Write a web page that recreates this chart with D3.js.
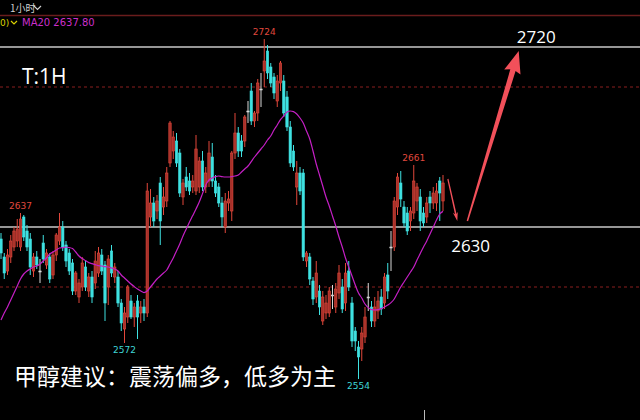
<!DOCTYPE html>
<html>
<head>
<meta charset="utf-8">
<script src="https://cdn.jsdelivr.net/npm/d3@7"></script>
<style>
  body { margin: 0; background: #000; }
  svg { display: block; }
</style>
</head>
<body>
<div id="chart"></div>
<script>
// hourly candles
const openP = [2624,2615,2608,2615,2620,2623,2620,2635,2628,2624,2608,2615,2608,2622,2611,2615,2606,2616,2623,2630,
  2621,2617,2612,2598,2595,2600,2610,2598,2605,2602,2607,2616,2611,2600,2618,2605,2605,2592,2579,2585,
  2593,2585,2593,2587,2590,2587,2635,2642,2638,2652,2640,2643,2662,2668,2673,2667,2645,2655,2653,2650,
  2648,2650,2663,2650,2653,2665,2653,2650,2642,2630,2642,2638,2667,2677,2673,2673,2688,2698,2683,2687,
  2699,2708,2718,2710,2705,2693,2702,2703,2695,2680,2668,2650,2657,2657,2613,2615,2603,2595,2598,2583,
  2587,2587,2596,2590,2597,2600,2592,2608,2592,2578,2570,2569,2575,2595,2590,2583,2588,2595,2592,2606,
  2620,2620,2640,2652,2640,2637,2633,2637,2643,2645,2637,2635,2645,2642,2642,2653,2643];
const highP = [2627,2617,2619,2626,2630,2634,2637,2636,2631,2627,2617,2618,2614,2626,2619,2617,2618,2627,2637,2633,
  2623,2619,2614,2608,2604,2615,2613,2607,2608,2618,2620,2619,2613,2616,2621,2612,2608,2594,2590,2601,
  2596,2592,2596,2593,2594,2652,2649,2645,2646,2655,2650,2660,2683,2678,2677,2669,2654,2660,2657,2656,
  2676,2665,2668,2660,2673,2672,2656,2652,2645,2647,2648,2668,2687,2680,2676,2686,2693,2702,2688,2704,
  2707,2724,2721,2712,2707,2706,2713,2706,2698,2683,2671,2663,2660,2659,2618,2617,2605,2613,2601,2598,
  2596,2600,2601,2602,2611,2604,2612,2613,2595,2580,2573,2580,2590,2602,2593,2595,2598,2599,2607,2612,
  2628,2645,2657,2658,2643,2640,2640,2661,2652,2649,2640,2645,2648,2650,2652,2655,2656];
const lowP = [2614,2604,2606,2612,2618,2620,2618,2623,2618,2606,2605,2609,2602,2612,2609,2602,2604,2613,2621,2618,
  2610,2606,2596,2596,2592,2598,2598,2595,2592,2599,2605,2606,2583,2591,2605,2602,2590,2578,2572,2582,
  2584,2580,2574,2582,2583,2585,2630,2630,2634,2621,2636,2640,2660,2664,2660,2645,2641,2648,2646,2647,
  2646,2647,2648,2647,2650,2650,2645,2640,2630,2627,2638,2633,2664,2665,2665,2670,2682,2681,2680,2683,
  2690,2700,2704,2700,2694,2690,2698,2685,2678,2660,2658,2641,2646,2613,2610,2601,2591,2592,2586,2581,
  2584,2585,2589,2587,2594,2587,2588,2598,2570,2568,2554,2563,2572,2588,2580,2580,2584,2586,2589,2594,
  2608,2618,2636,2640,2630,2626,2628,2634,2638,2628,2630,2632,2637,2639,2638,2633,2638];
const closeP = [2617,2607,2616,2623,2628,2629,2634,2625,2620,2610,2615,2611,2608,2614,2617,2604,2616,2626,2630,2620,
  2613,2608,2598,2607,2602,2612,2600,2605,2595,2613,2617,2608,2592,2614,2607,2610,2592,2582,2587,2600,
  2585,2590,2585,2590,2587,2648,2642,2633,2643,2633,2645,2657,2682,2675,2662,2647,2652,2650,2648,2653,
  2669,2663,2650,2657,2667,2653,2647,2642,2635,2643,2644,2667,2677,2668,2668,2685,2688,2683,2687,2702,
  2699,2713,2707,2702,2697,2703,2712,2687,2680,2662,2660,2657,2648,2615,2617,2604,2594,2607,2590,2595,
  2592,2598,2596,2599,2607,2589,2607,2600,2573,2573,2565,2577,2585,2595,2583,2590,2593,2589,2605,2598,
  2620,2643,2655,2644,2632,2628,2638,2653,2650,2633,2632,2642,2642,2647,2648,2647,2652];
// MA20 as drawn
const ma20 = [2583.5,2587,2590,2593.5,2597,2600.5,2604,2606.5,2608,2609,2610,2610.5,2611.5,2613,2614.5,2616.5,2617.5,2618.5,2619.5,2619.7,
  2620,2619.7,2619.2,2617.5,2615.5,2614.2,2613.2,2612.2,2611.7,2611.2,2610.7,2610.5,2610.2,2610,2609.5,2609,2608,2606,2604.5,2603,
  2601.5,2600.2,2599,2598,2597.2,2598,2600,2602,2604,2605.5,2607,2608.5,2611.5,2614.5,2618,2621.5,2625.5,2629,2632.5,2635.7,
  2639,2642.5,2646.7,2651,2653.5,2654.5,2655.2,2655.5,2655.2,2655,2655,2655.2,2655.5,2656,2657.5,2659,2660.5,2662.7,2665,2667,
  2669,2671,2673.5,2675.5,2678.5,2681,2683.7,2685.5,2687.5,2688,2687.7,2686.5,2684.5,2682,2678,2674,2668,2661.5,2656,2650.5,
  2645,2640.5,2635.5,2630.5,2625,2620,2614.5,2610,2605.5,2601,2597,2594.5,2591.5,2589.7,2588.7,2588.5,2588.7,2589.2,2590,2591,
  2592.2,2594,2597,2600,2602.5,2605,2607.5,2610,2613.5,2616.7,2620,2623,2626.5,2630,2633.5,2636.5,2637.8];

// marked extremes
const markIdx = [81, 6, 127, 38, 110];
const markVal = [2724, 2637, 2661, 2572, 2554];
const markIsHigh = [true, true, true, false, false];

// levels
const gridLevels = [2700, 2600];
const targetLevels = [2720, 2630];
const targetText = ['2720', '2630'];
const targetIdx = [164.7, 144.5];

// drawn path: pull back then up
const dipArrow = [[137.5, 2654], [140.4, 2633]];
const upArrow = [[143.5, 2633], [159.3, 2718]];

const width = 640, height = 420;
const up = '#e2473b', upFill = '#a8312a', down = '#3fe2e2', flat = '#d8d8d8';

const svg = d3.select('#chart').append('svg')
  .attr('width', width)
  .attr('height', height)
  .style('background', '#000');

const x = d3.scaleLinear().domain([0, 136]).range([1, 443]);
const y = d3.scaleLinear().domain([2700, 2600]).range([87, 287]);

// header
svg.append('line')
  .attr('x1', 0).attr('x2', width).attr('y1', 15.5).attr('y2', 15.5)
  .attr('stroke', '#6a1c1c').attr('stroke-width', 1.5);
svg.append('text')
  .attr('x', 10).attr('y', 12)
  .attr('fill', '#d0d0d0')
  .style('font', '10px "Noto Sans CJK SC", sans-serif')
  .text('1小时');
svg.append('path')
  .attr('d', 'M34,6 L37.5,9.5 L41,6')
  .attr('fill', 'none').attr('stroke', '#d0d0d0').attr('stroke-width', 1.2);
svg.append('text')
  .attr('x', 0).attr('y', 26)
  .attr('fill', '#d8d000')
  .style('font', '9px "DejaVu Sans", sans-serif')
  .text('0)');
svg.append('path')
  .attr('d', 'M11,21 L14,24 L17,21')
  .attr('fill', 'none').attr('stroke', '#d8d000').attr('stroke-width', 1.2);
svg.append('text')
  .attr('x', 22).attr('y', 26)
  .attr('fill', '#cc2fcc')
  .style('font', '10px "DejaVu Sans", sans-serif')
  .text('MA20 ' + ma20[ma20.length - 1].toFixed(2));

// grid
svg.selectAll('line.grid')
  .data(gridLevels)
  .enter().append('line')
  .attr('class', 'grid')
  .attr('x1', 0).attr('x2', width)
  .attr('y1', d => y(d)).attr('y2', d => y(d))
  .attr('stroke', '#8a1f1f')
  .attr('stroke-dasharray', '3,3');

svg.selectAll('line.level')
  .data(targetLevels)
  .enter().append('line')
  .attr('class', 'level')
  .attr('x1', 0).attr('x2', width)
  .attr('y1', d => y(d)).attr('y2', d => y(d))
  .attr('stroke', '#c8c8c8')
  .attr('stroke-width', 1.3);

// candles
const candles = d3.range(openP.length).map(i => ({
  i: i, o: openP[i], h: highP[i], l: lowP[i], c: closeP[i]
}));
const col = d => d.c > d.o ? up : (d.c < d.o ? down : flat);

const cg = svg.append('g')
  .selectAll('g.candle')
  .data(candles)
  .enter().append('g')
  .attr('class', 'candle');

cg.append('line')
  .attr('x1', d => x(d.i)).attr('x2', d => x(d.i))
  .attr('y1', d => y(d.h)).attr('y2', d => y(d.l))
  .attr('stroke', col)
  .attr('stroke-width', 1);

cg.append('rect')
  .attr('x', d => x(d.i) - 1.2)
  .attr('y', d => y(Math.max(d.o, d.c)))
  .attr('width', 2.4)
  .attr('height', d => Math.max(1, Math.abs(y(d.o) - y(d.c))))
  .attr('fill', d => d.c > d.o ? upFill : col(d))
  .attr('stroke', col)
  .attr('stroke-width', 0.6);

// moving average
svg.append('path')
  .datum(ma20)
  .attr('fill', 'none')
  .attr('stroke', '#c51fc5')
  .attr('stroke-width', 1.2)
  .attr('d', d3.line().x((d, i) => x(i)).y(d => y(d)).curve(d3.curveMonotoneX));

// high / low marks
svg.selectAll('text.mark')
  .data(markVal)
  .enter().append('text')
  .attr('class', 'mark')
  .attr('x', (d, i) => x(markIdx[i]))
  .attr('y', (d, i) => markIsHigh[i] ? y(d) - 4 : y(d) + 10)
  .attr('text-anchor', 'middle')
  .attr('fill', (d, i) => markIsHigh[i] ? '#e0493e' : '#3fd6d6')
  .style('font', '9px "DejaVu Sans", sans-serif')
  .text(d => d);

// target labels
svg.selectAll('text.target')
  .data(targetLevels)
  .enter().append('text')
  .attr('class', 'target')
  .attr('x', (d, i) => x(targetIdx[i]))
  .attr('y', (d, i) => i === 0 ? y(d) - 4 : y(d) + 25)
  .attr('text-anchor', 'middle')
  .attr('fill', '#fff')
  .style('font', '17px "Open Sans", sans-serif')
  .text((d, i) => targetText[i]);

svg.append('text')
  .attr('x', 22).attr('y', 84)
  .attr('fill', '#fff')
  .style('font', '21px "Open Sans", sans-serif')
  .text('T:1H');

// arrows
function arrow(pts, tailW, neckW, headLen, headW) {
  const x0 = x(pts[0][0]), y0 = y(pts[0][1]);
  const x1 = x(pts[1][0]), y1 = y(pts[1][1]);
  const len = Math.hypot(x1 - x0, y1 - y0);
  const ux = (x1 - x0) / len, uy = (y1 - y0) / len;
  const nx = -uy, ny = ux;
  const bx = x1 - ux * headLen, by = y1 - uy * headLen;
  const p = [
    [x0 + nx * tailW / 2, y0 + ny * tailW / 2],
    [bx + nx * neckW / 2, by + ny * neckW / 2],
    [bx + nx * headW / 2 - ux * 2, by + ny * headW / 2 - uy * 2],
    [x1, y1],
    [bx - nx * headW / 2 - ux * 2, by - ny * headW / 2 - uy * 2],
    [bx - nx * neckW / 2, by - ny * neckW / 2],
    [x0 - nx * tailW / 2, y0 - ny * tailW / 2]
  ];
  svg.append('path')
    .attr('d', 'M' + p.join('L') + 'Z')
    .attr('fill', '#f2505a');
}
arrow(dipArrow, 1.2, 1.6, 7, 5);
arrow(upArrow, 1.5, 5.5, 20, 17);

// bottom note
svg.append('text')
  .attr('x', 14).attr('y', 385)
  .attr('fill', '#fff')
  .style('font', '23px "Noto Sans CJK SC", sans-serif')
  .text('甲醇建议：震荡偏多，低多为主');

svg.append('line')
  .attr('x1', 424.5).attr('x2', 424.5).attr('y1', 410).attr('y2', 420)
  .attr('stroke', '#bbb');
</script>
</body>
</html>
